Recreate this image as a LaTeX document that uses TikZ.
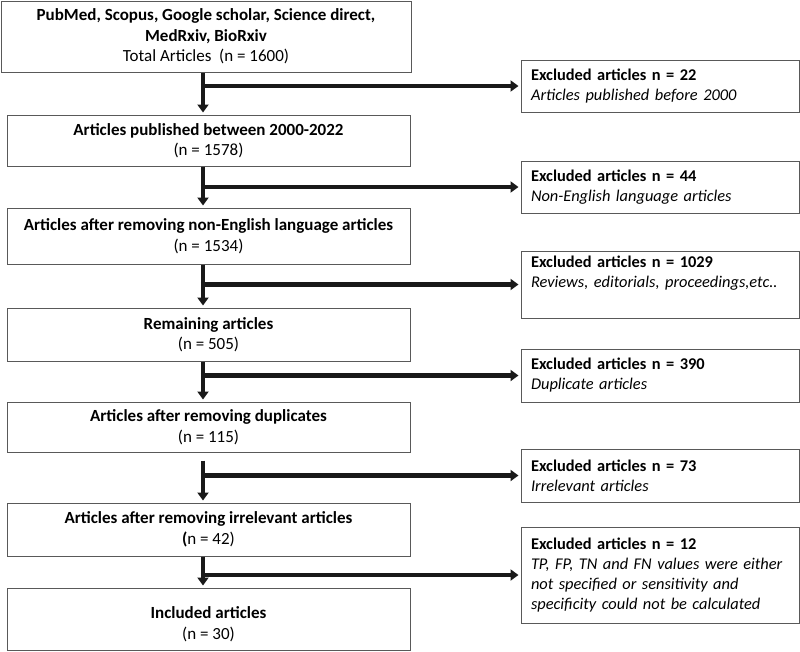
\documentclass[tikz,border=0pt]{standalone}
\usepackage{fontspec}
\setmainfont{Carlito}
\usetikzlibrary{arrows.meta,calc}
\begin{document}
\begin{tikzpicture}[x=1pt,y=-1pt,
  boxline/.style={draw=black!65, line width=1pt, fill=white},
  lbox/.style={boxline, minimum width=403pt, inner sep=0pt, align=center,
    font=\fontsize{17}{20.5}\selectfont},
  rbox/.style={boxline, text width=258pt, inner xsep=10pt, inner ysep=0pt, align=left,
    font=\fontsize{16.4}{20}\selectfont},
  flow/.style={draw=black!90, line width=4.2pt,
    -{Triangle[width=11pt,length=8pt]}, shorten >=2pt},
]
\useasboundingbox (0,0) rectangle (800,651);
\coordinate (ax) at (203,0);

% left column
\node[lbox, minimum width=410pt, minimum height=71pt] (L1) at (206,36.5)
  {\textbf{PubMed, Scopus, Google scholar, Science direct,}\\ \textbf{MedRxiv, BioRxiv}\\ Total Articles\ \ (n = 1600)};
\node[lbox, minimum height=51pt] (L2) at (208.5,140.5)
  {\textbf{Articles published between 2000-2022}\\ (n = 1578)};
\node[lbox, minimum height=56pt] (L3) at (208.5,236)
  {\textbf{Articles after removing non-English language articles}\\ (n = 1534)};
\node[lbox, minimum height=53pt] (L4) at (208.5,334.5)
  {\textbf{Remaining articles}\\ (n = 505)};
\node[lbox, minimum height=50pt] (L5) at (208.5,427)
  {\textbf{Articles after removing duplicates}\\ (n = 115)};
\node[lbox, minimum height=53pt] (L6) at (208.5,529.5)
  {\textbf{Articles after removing irrelevant articles}\\ \textbf{(}n = 42)};
\node[lbox, minimum height=62pt, text height=40pt, text depth=0pt] (L7) at (208.5,619)
  {\textbf{Included articles}\\ (n = 30)};

% right column
\node[rbox, minimum height=52pt] (R1) at (660,86)
  {\textbf{Excluded articles n = 22}\\ \textit{Articles published before 2000}};
\node[rbox, minimum height=52pt] (R2) at (660,187)
  {\textbf{Excluded articles n = 44}\\ \textit{Non-English language articles}};
\node[rbox, minimum height=67pt] (R3) at (660,284.5)
  {\textbf{Excluded articles n = 1029}\\ \textit{Reviews, editorials, proceedings,etc..}\\ \strut};
\node[rbox, minimum height=53pt] (R4) at (660,375.5)
  {\textbf{Excluded articles n = 390}\\ \textit{Duplicate articles}};
\node[rbox, minimum height=53pt] (R5) at (660,475.5)
  {\textbf{Excluded articles n = 73}\\ \textit{Irrelevant articles}};
\node[rbox, minimum height=96pt] (R6) at (660,575)
  {\textbf{Excluded articles n = 12}\\ \textit{TP, FP, TN and FN values were either}\\ \textit{not specified or sensitivity and}\\ \textit{specificity could not be calculated}};

% connectors
\draw[flow] (L1.south -| ax) -- (L2.north -| ax);
\draw[flow] (L2.south -| ax) -- (L3.north -| ax);
\draw[flow] (L3.south -| ax) -- (L4.north -| ax);
\draw[flow] (L4.south -| ax) -- (L5.north -| ax);
\draw[flow] ([yshift=-8pt]L5.south -| ax) -- (L6.north -| ax);
\draw[flow] (L6.south -| ax) -- (L7.north -| ax);

\draw[flow] ([xshift=-2.1pt]ax |- R1.west) -- (R1.west);
\draw[flow] ([xshift=-2.1pt]ax |- R2.west) -- (R2.west);
\draw[flow] ([xshift=-2.1pt]ax |- R3.west) -- (R3.west);
\draw[flow] ([xshift=-2.1pt]ax |- R4.west) -- (R4.west);
\draw[flow] ([xshift=-2.1pt]ax |- R5.west) -- (R5.west);
\draw[flow] ([xshift=-2.1pt]ax |- R6.west) -- (R6.west);
\end{tikzpicture}
\end{document}
